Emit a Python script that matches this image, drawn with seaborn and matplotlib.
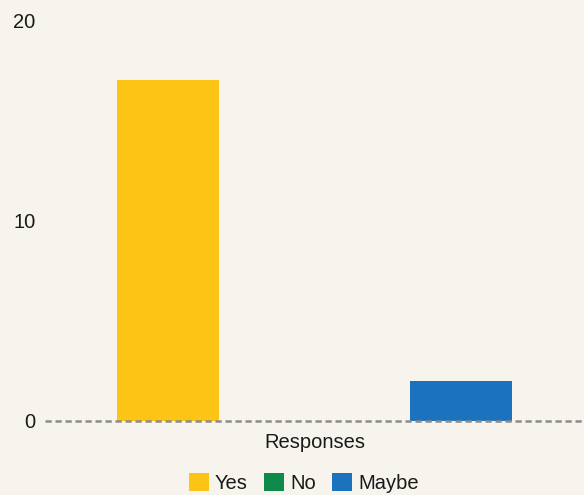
import matplotlib
matplotlib.use("Agg")
import matplotlib.pyplot as plt
import seaborn as sns
import pandas as pd

# Data
group = ["Responses", "Responses", "Responses"]
answers = ["Yes", "No", "Maybe"]
counts = [17, 0, 2]
colors = ["#FCC414", "#0E8A4B", "#1B73BE"]
y_ticks = [0, 10, 20]

bg = "#F7F4ED"
text_color = "#1A1A1A"

sns.set_theme(style="white")
plt.rcParams["font.family"] = ["Liberation Sans", "DejaVu Sans"]

df = pd.DataFrame({"group": group, "answer": answers, "count": counts})

fig = plt.figure(figsize=(5.84, 4.95), dpi=100, facecolor=bg)
ax = fig.add_axes([45 / 584, 1 - 421 / 495, 539 / 584, 401 / 495])
ax.set_facecolor(bg)

sns.barplot(data=df, x="group", y="count", hue="answer", hue_order=answers,
            palette=colors, width=0.815, gap=0.3, saturation=1, ax=ax,
            legend=True, linewidth=0)

ax.set_ylim(0, 20)
ax.set_xlim(-0.5, 0.5)
ax.set_yticks(y_ticks)
ax.set_xlabel("")
ax.set_ylabel("")
for s in ax.spines.values():
    s.set_visible(False)
ax.tick_params(axis="both", length=0, labelsize=14.5, colors=text_color)
ax.tick_params(axis="y", pad=7)
ax.tick_params(axis="x", pad=9)

ax.axhline(0, color="#8C8C8C", linewidth=1.8, linestyle=(0, (2.5, 1.5)),
           zorder=5, clip_on=False)
ax.grid(False)

handles, labels = ax.get_legend_handles_labels()
if ax.legend_:
    ax.legend_.remove()
fig.legend(handles, labels, loc="center", bbox_to_anchor=(0.52, 1 - 483 / 495),
           ncol=3, frameon=False, fontsize=14.5, handlelength=1.0,
           handleheight=1.0, handletextpad=0.3, columnspacing=0.8,
           labelcolor=text_color, borderaxespad=0, borderpad=0)

fig.savefig("out.png", dpi=100, facecolor=bg)
